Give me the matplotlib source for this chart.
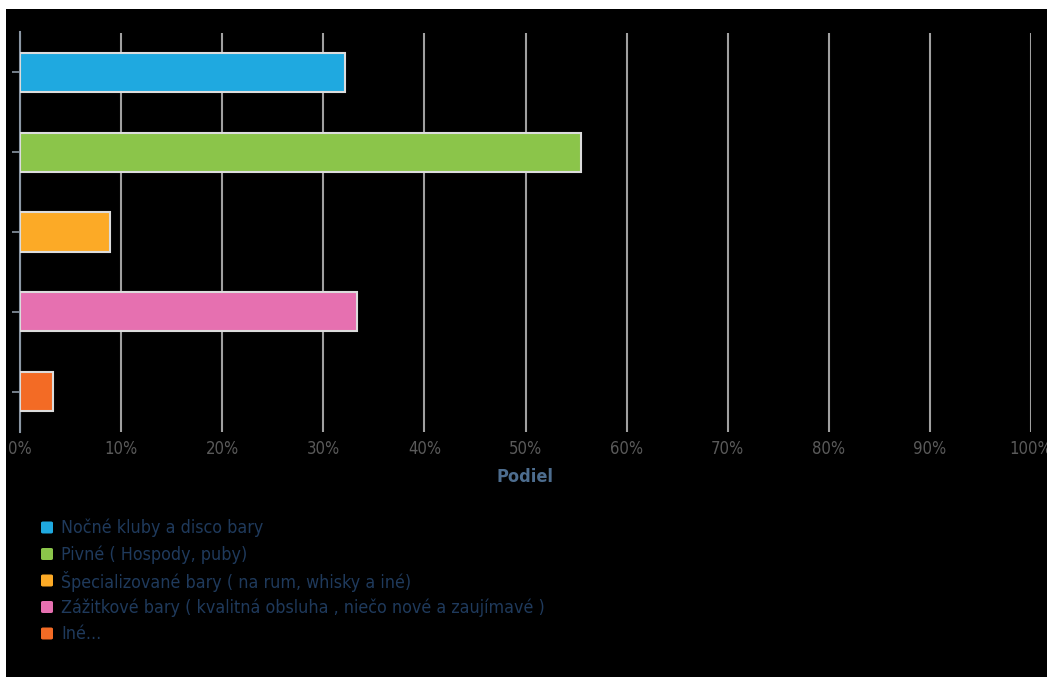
import matplotlib
matplotlib.use("Agg")
import matplotlib.pyplot as plt
from matplotlib import font_manager
from matplotlib.patches import Rectangle, FancyBboxPatch
from matplotlib.ticker import FuncFormatter, MultipleLocator

categories = [
    "Nočné kluby a disco bary",
    "Pivné ( Hospody, puby)",
    "Špecializované bary ( na rum, whisky a iné)",
    "Zážitkové bary ( kvalitná obsluha , niečo nové a zaujímavé )",
    "Iné...",
]
shares = [32.1, 55.5, 8.9, 33.3, 3.3]
colors = ["#1fa9e0", "#8bc54a", "#fcaa26", "#e670b0", "#f36b25"]
axis_title = "Podiel"

# prefer a condensed sans face when one is installed
condensed = any(f.name == "DejaVu Sans" and "Condensed" in f.fname
                for f in font_manager.fontManager.ttflist)
if condensed:
    font = dict(family="DejaVu Sans", stretch="condensed")
    tick_size, legend_size, title_size = 12, 12.8, 13
else:
    font = dict(family="DejaVu Sans")
    tick_size, legend_size, title_size = 10.5, 11.5, 12

W, H = 1047, 677
fig = plt.figure(figsize=(W / 100, H / 100), dpi=100, facecolor="white")

# black canvas with a thin white margin on the top and left
fig.patches.append(Rectangle((6 / W, 0), 1 - 6 / W, 1 - 9 / H,
                             transform=fig.transFigure, facecolor="black",
                             edgecolor="none", zorder=-10))

ax = fig.add_axes([20 / W, 1 - 431.5 / H, (1031 - 20) / W, (431.5 - 32.5) / H])
ax.set_facecolor("black")

y = list(range(len(categories)))
ax.barh(y, shares, height=0.49, color=colors, edgecolor="#dcdcdc",
        linewidth=1.5, zorder=3)

ax.set_xlim(0, 100)
ax.set_ylim(len(categories) - 0.5, -0.5)
ax.xaxis.set_major_locator(MultipleLocator(10))
ax.xaxis.set_major_formatter(FuncFormatter(lambda v, p: f"{v:.0f}%"))
ax.grid(axis="x", color="#a0a0a0", linewidth=1.5, zorder=1)
ax.set_yticks(y)
ax.set_yticklabels([])
ax.tick_params(axis="y", length=6, width=1.2, color="#8a96a3", direction="out")
ax.tick_params(axis="x", length=0, pad=6, labelcolor="#5a5a5a", labelsize=tick_size)
for lbl in ax.get_xticklabels():
    lbl.set_fontfamily(font["family"])
    if condensed:
        lbl.set_fontstretch("condensed")

for s in ["top", "right", "bottom"]:
    ax.spines[s].set_visible(False)
ax.spines["left"].set_color("#8a96a3")
ax.spines["left"].set_linewidth(1.5)

ax.set_xlabel(axis_title, color="#4d6d8f", fontweight="bold", fontsize=title_size,
              labelpad=7, **font)

# legend below the chart
x0, y0, step = 40, 528, 26.5
for i, (name, c) in enumerate(zip(categories, colors)):
    yc = y0 + i * step
    fig.patches.append(FancyBboxPatch(((x0 + 1) / W, 1 - (yc + 5.5) / H),
                                      12 / W, 12 / H,
                                      boxstyle="round,pad=0,rounding_size=0.002",
                                      transform=fig.transFigure,
                                      facecolor=c, edgecolor="none"))
    fig.text((x0 + 21) / W, 1 - yc / H, name, color="#1f3a5c", fontsize=legend_size,
             va="center", ha="left", **font)

fig.savefig("out.png", dpi=100, facecolor=fig.get_facecolor())
